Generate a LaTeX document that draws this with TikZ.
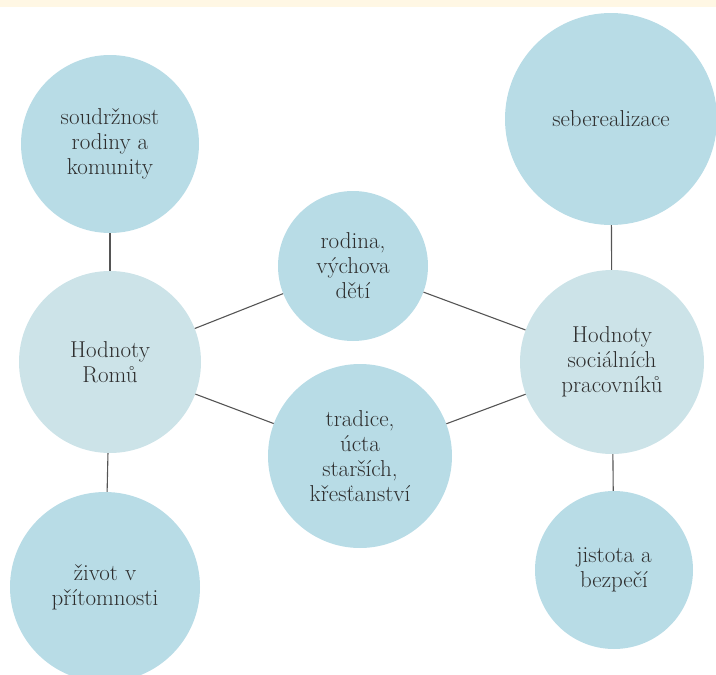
\documentclass[tikz,border=0pt]{standalone}
\definecolor{outer}{HTML}{B8DCE6}
\definecolor{inner}{HTML}{CCE3E8}
\definecolor{txt}{HTML}{2E2E2E}
\definecolor{edge}{HTML}{555555}
\definecolor{band}{HTML}{FFF7E4}
\begin{document}
\begin{tikzpicture}[x=1pt,y=-1pt,
  bubble/.style={circle,inner sep=0pt,align=center,text=txt,
    font=\fontsize{23}{25}\selectfont},
  outerb/.style={bubble,fill=outer},
  innerb/.style={bubble,fill=inner},
  link/.style={draw=edge,line width=1.1pt}]
\useasboundingbox (0,0) rectangle (716,675);
\fill[band] (0,0) rectangle (716,7);
\node[outerb,minimum size=178pt] (sou) at (110,144) {soudržnost\\rodiny a\\komunity};
\node[outerb,minimum size=212pt] (seb) at (611,119) {seberealizace};
\node[innerb,minimum size=182pt] (rom) at (110,362) {Hodnoty\\Romů};
\node[outerb,minimum size=150pt] (rod) at (353,266) {rodina,\\výchova\\dětí};
\node[outerb,minimum size=184pt] (tra) at (360,456) {tradice,\\úcta\\starších,\\křesťanství};
\node[innerb,minimum size=184pt] (soc) at (612,362) {Hodnoty\\sociálních\\pracovníků};
\node[outerb,minimum size=190pt] (ziv) at (105,587) {život v\\přítomnosti};
\node[outerb,minimum size=158pt] (jis) at (614,570) {jistota a\\bezpečí};
\draw[link] (sou) -- (rom);
\draw[link] (rom) -- (ziv);
\draw[link] (rom) -- (rod);
\draw[link] (rom) -- (tra);
\draw[link] (rod) -- (soc);
\draw[link] (tra) -- (soc);
\draw[link] (seb) -- (soc);
\draw[link] (soc) -- (jis);
\end{tikzpicture}
\end{document}
